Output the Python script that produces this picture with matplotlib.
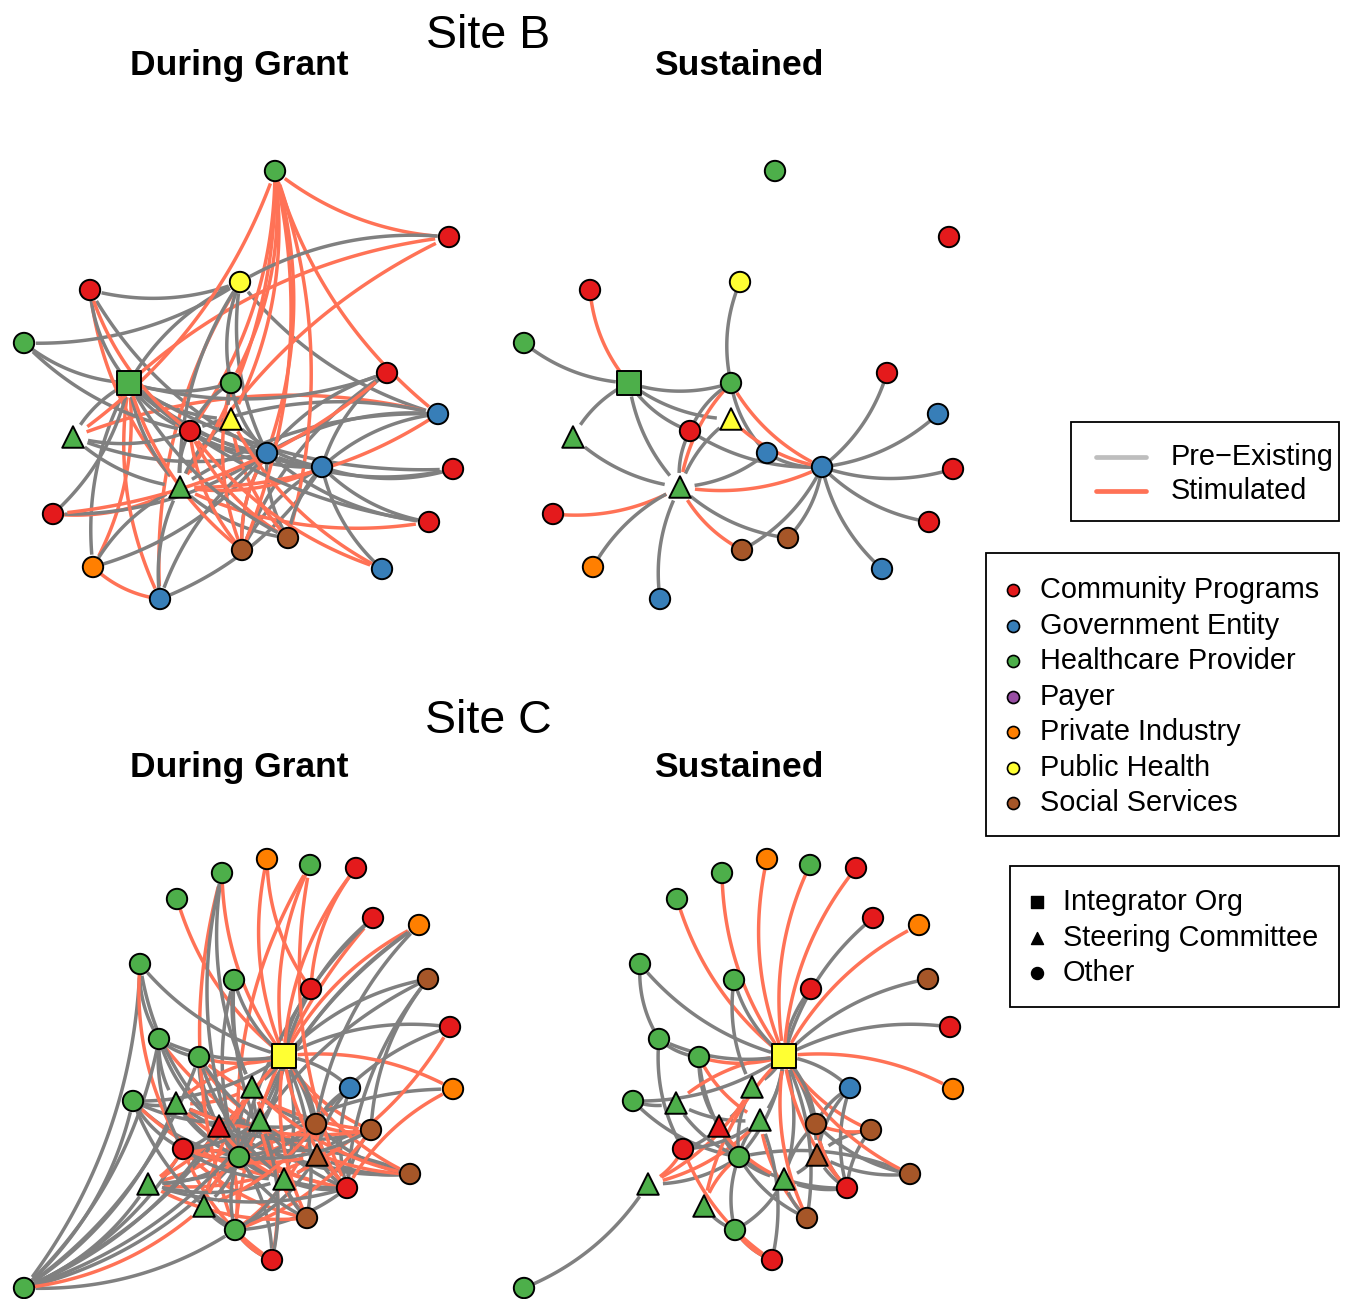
import numpy as np
import matplotlib.pyplot as plt
from matplotlib.collections import LineCollection
from matplotlib.patches import Rectangle

plt.rcParams['font.family'] = ['Liberation Sans', 'DejaVu Sans']

# ---- categories ----
sector_names = ['Community Programs', 'Government Entity', 'Healthcare Provider', 'Payer',
                'Private Industry', 'Public Health', 'Social Services']
sector_codes = ['cp', 'gov', 'hc', 'pay', 'pi', 'ph', 'ss']
sector_colors = ['#E41A1C', '#377EB8', '#4DAF4A', '#984EA3', '#FF7F00', '#FFFF33', '#A65628']
role_names = ['Integrator Org', 'Steering Committee', 'Other']
role_codes = ['int', 'sc', 'oth']
edge_names = ['Pre\u2212Existing', 'Stimulated']

# ---- Site B nodes (layout) ----
b_x = [275, 449, 240, 90, 24, 129, 231, 387, 438, 231, 73, 190, 267, 322, 453, 180, 53, 429, 288, 242, 93, 382, 160]
b_y = [171, 237, 282, 290, 343, 383, 383, 373, 414, 419, 437, 431, 453, 467, 469, 487, 514, 522, 538, 550, 567, 569, 599]
b_sector = ['hc', 'cp', 'ph', 'cp', 'hc', 'hc', 'hc', 'cp', 'gov', 'ph', 'hc', 'cp', 'gov', 'gov',
            'cp', 'hc', 'cp', 'cp', 'ss', 'ss', 'pi', 'gov', 'gov']
b_role = ['oth', 'oth', 'oth', 'oth', 'oth', 'int', 'oth', 'oth', 'oth', 'sc', 'sc', 'oth', 'oth', 'oth',
          'oth', 'sc', 'oth', 'oth', 'oth', 'oth', 'oth', 'oth', 'oth']

b_grant_pre = [(1, 2), (3, 2), (4, 2), (4, 5), (4, 11), (3, 5), (3, 12), (2, 5), (2, 6), (2, 15), (2, 12),
               (2, 8), (5, 6), (5, 7), (5, 11), (5, 12), (5, 13), (5, 14), (5, 17), (5, 10), (5, 15),
               (5, 9), (5, 18), (5, 20), (6, 11), (6, 12), (6, 9), (7, 13), (7, 19), (7, 12),
               (8, 13), (8, 12), (8, 15), (8, 11), (10, 15), (10, 12), (10, 11), (11, 13), (11, 15),
               (11, 12), (12, 13), (12, 14), (12, 18), (12, 19), (12, 22), (12, 17), (13, 14),
               (13, 17), (13, 21), (13, 18), (13, 19), (15, 20), (15, 22), (16, 5), (15, 18),
               (9, 15), (16, 12), (20, 12), (22, 13), (9, 13)]
b_grant_stim = [(0, 1), (10, 0), (15, 0), (11, 0), (9, 0), (6, 0), (12, 0), (19, 0), (18, 0), (0, 8),
                (1, 5), (3, 11), (3, 15), (16, 7), (16, 15), (5, 19), (5, 22), (20, 5), (20, 22),
                (15, 8), (15, 13), (15, 17), (11, 19), (11, 18), (11, 21), (12, 19), (9, 18),
                (9, 21), (2, 22), (1, 15), (6, 19), (8, 10)]

b_sust_pre = [(4, 5), (5, 6), (5, 10), (5, 15), (5, 9), (5, 11), (2, 6), (6, 11), (6, 12), (9, 15),
              (11, 15), (11, 13), (15, 12), (15, 20), (15, 22), (15, 18), (10, 15), (13, 7), (13, 8),
              (13, 14), (13, 17), (13, 21), (18, 13), (19, 13), (12, 13)]
b_sust_stim = [(3, 5), (6, 15), (6, 13), (9, 13), (15, 13), (16, 15), (15, 19)]

# ---- Site C nodes ----
c_x = [177, 222, 267, 310, 356, 373, 419, 140, 234, 311, 428, 450, 159, 199, 284, 350, 453, 133,
       176, 252, 260, 219, 316, 371, 183, 239, 317, 148, 284, 410, 347, 204, 307, 235, 272, 24]
c_y = [899, 873, 859, 865, 868, 918, 925, 964, 980, 989, 979, 1027, 1039, 1057, 1056, 1088, 1089,
       1101, 1103, 1087, 1120, 1126, 1124, 1130, 1149, 1157, 1155, 1184, 1179, 1174, 1188, 1206,
       1218, 1230, 1260, 1288]
c_sector = ['hc', 'hc', 'pi', 'hc', 'cp', 'cp', 'pi', 'hc', 'hc', 'cp', 'ss', 'cp', 'hc', 'hc', 'ph',
            'gov', 'pi', 'hc', 'hc', 'hc', 'hc', 'cp', 'ss', 'ss', 'cp', 'hc', 'ss', 'hc', 'hc', 'ss',
            'cp', 'hc', 'ss', 'hc', 'cp', 'hc']
c_role = ['oth'] * 14 + ['int'] + ['oth'] * 3 + ['sc', 'sc', 'sc', 'sc'] + ['oth'] * 4 + ['sc', 'sc', 'sc'] + \
         ['oth', 'oth', 'sc', 'oth', 'oth', 'oth', 'oth']

c_sust_pre = [(5, 14), (7, 14), (7, 12), (8, 19), (9, 14), (10, 14), (11, 14), (12, 14), (12, 13),
              (12, 24), (13, 25), (15, 14), (15, 22), (15, 30), (17, 14), (17, 25), (17, 18), (18, 25),
              (19, 14), (19, 25), (20, 14), (20, 25), (21, 25), (21, 19), (22, 14), (22, 28), (22, 29),
              (22, 30), (23, 26), (23, 30), (25, 33), (25, 30), (25, 32), (25, 28), (26, 14), (26, 30),
              (26, 29), (28, 14), (28, 32), (28, 30), (33, 28), (33, 34), (35, 27), (27, 25), (24, 20),
              (24, 21), (32, 14), (25, 14), (31, 33), (8, 14), (13, 21), (18, 20), (29, 25), (15, 26),
              (34, 20), (28, 26)]
c_sust_stim = [(0, 14), (1, 14), (2, 14), (3, 14), (4, 14), (6, 14), (13, 14), (16, 14), (14, 18),
               (14, 31), (14, 30), (14, 29), (14, 23), (14, 32), (22, 23), (27, 24), (24, 34), (27, 19),
               (33, 34), (20, 32), (21, 28), (13, 20), (27, 20), (25, 31), (22, 30)]

c_grant_pre = c_sust_pre + [(1, 19), (1, 25), (6, 22), (6, 25), (10, 25), (10, 30), (35, 7), (35, 12),
                            (35, 13), (35, 18), (35, 24), (35, 21), (35, 25), (35, 19), (35, 20), (35, 33),
                            (35, 17), (17, 20), (17, 24), (17, 33), (12, 18), (12, 21), (13, 28),
                            (18, 28), (18, 22), (24, 25), (24, 28), (27, 28), (27, 22), (31, 25),
                            (19, 22), (20, 30), (21, 29), (25, 23), (33, 30), (33, 26), (34, 25),
                            (11, 22), (10, 23), (16, 25), (6, 20), (5, 25), (8, 25), (8, 28),
                            (7, 21), (27, 30), (18, 29), (19, 32), (13, 26), (21, 23)]
c_grant_stim = c_sust_stim + [(1, 33), (2, 9), (4, 9), (3, 30), (16, 30), (35, 31), (7, 24), (17, 28),
                              (18, 30), (18, 23), (12, 26), (24, 22), (24, 32), (21, 30), (13, 23),
                              (19, 29), (27, 26), (31, 22), (33, 22), (33, 23), (28, 11), (20, 29),
                              (25, 22), (24, 26), (27, 32), (34, 19), (33, 21), (5, 33), (3, 25),
                              (18, 19)]

# ---- drawing ----
W, H = 1345, 1299
fig = plt.figure(figsize=(W / 100, H / 100), dpi=100)

GREY = '#808080'
CORAL = '#FF7256'
radius = {'int': 13, 'sc': 14, 'oth': 10}
marker = {'int': 's', 'sc': '^', 'oth': 'o'}
msize = {'int': 310, 'sc': 240, 'oth': 215}
CURVE = 0.16


def draw_panel(rect, xlim, ylim, xs, ys, sector, role, pre, stim):
    x0, y0, w, h = rect
    ax = fig.add_axes([x0 / W, 1 - (y0 + h) / H, w / W, h / H])
    ax.set_xlim(*xlim)
    ax.set_ylim(*ylim)
    ax.axis('off')
    pos = np.column_stack([xs, ys]).astype(float)
    edges = [(a, b, GREY) for a, b in pre] + [(a, b, CORAL) for a, b in stim]
    edges.sort(key=lambda e: (min(e[0], e[1]) * 7 + max(e[0], e[1])) % 11)
    t = np.linspace(0, 1, 80)[:, None]
    segs, cols = [], []
    for a, b, c in edges:
        A, B = pos[a], pos[b]
        d = B - A
        ctrl = (A + B) / 2 + CURVE * np.array([-d[1], d[0]])
        pts = (1 - t) ** 2 * A + 2 * (1 - t) * t * ctrl + t ** 2 * B
        keep = (np.hypot(*(pts - A).T) > radius[role[a]]) & (np.hypot(*(pts - B).T) > radius[role[b]])
        segs.append(pts[keep])
        cols.append(c)
    ax.add_collection(LineCollection(segs, colors=cols, linewidths=2.5, capstyle='butt', zorder=1))
    for r in role_codes:
        idx = [i for i in range(len(xs)) if role[i] == r]
        if not idx:
            continue
        fc = [sector_colors[sector_codes.index(sector[i])] for i in idx]
        ax.scatter(pos[idx, 0], pos[idx, 1], s=msize[r], marker=marker[r], c=fc,
                   edgecolors='black', linewidths=1.4, zorder=3, clip_on=False)
    return ax


draw_panel((0, 130, 490, 500), (0, 490), (630, 130), b_x, b_y, b_sector, b_role, b_grant_pre, b_grant_stim)
draw_panel((500, 130, 490, 500), (0, 490), (630, 130), b_x, b_y, b_sector, b_role, b_sust_pre, b_sust_stim)
draw_panel((0, 830, 490, 469), (0, 490), (1299, 830), c_x, c_y, c_sector, c_role, c_grant_pre, c_grant_stim)
draw_panel((500, 830, 490, 469), (0, 490), (1299, 830), c_x, c_y, c_sector, c_role, c_sust_pre, c_sust_stim)

# ---- titles and legends (overlay in pixel units) ----
ov = fig.add_axes([0, 0, 1, 1])
ov.set_xlim(0, W)
ov.set_ylim(H, 0)
ov.axis('off')
ov.patch.set_alpha(0)

ov.text(488, 48, 'Site B', fontsize=33.5, ha='center', va='baseline')
ov.text(488, 733, 'Site C', fontsize=33.5, ha='center', va='baseline')
for yb in (75, 777):
    ov.text(239, yb, 'During Grant', fontsize=25.5, fontweight='bold', ha='center', va='baseline')
    ov.text(739, yb, 'Sustained', fontsize=25.5, fontweight='bold', ha='center', va='baseline')

FS = 20.8
# edge type legend
ov.add_patch(Rectangle((1071, 422), 268, 99, fill=False, ec='black', lw=1.3))
for i, (lab, col) in enumerate(zip(edge_names, ['#BEBEBE', CORAL])):
    y = 457 + 34 * i
    ov.plot([1096, 1146], [y, y], color=col, lw=3.4, solid_capstyle='round')
    ov.text(1171, y, lab, fontsize=FS, va='center')

# sector legend
ov.add_patch(Rectangle((986, 553), 353, 283, fill=False, ec='black', lw=1.3))
for i, (lab, col) in enumerate(zip(sector_names, sector_colors)):
    y = 590 + 35.5 * i
    ov.scatter([1013], [y], s=75, c=col, edgecolors='black', linewidths=1.2)
    ov.text(1040, y, lab, fontsize=FS, va='center')

# role legend
ov.add_patch(Rectangle((1010, 866), 329, 141, fill=False, ec='black', lw=1.3))
for i, (lab, m) in enumerate(zip(role_names, ['s', '^', 'o'])):
    y = 902 + 35.5 * i
    ov.scatter([1037], [y], s=75, marker=m, c='black')
    ov.text(1063, y, lab, fontsize=FS, va='center')

fig.savefig('out.png', dpi=100)
